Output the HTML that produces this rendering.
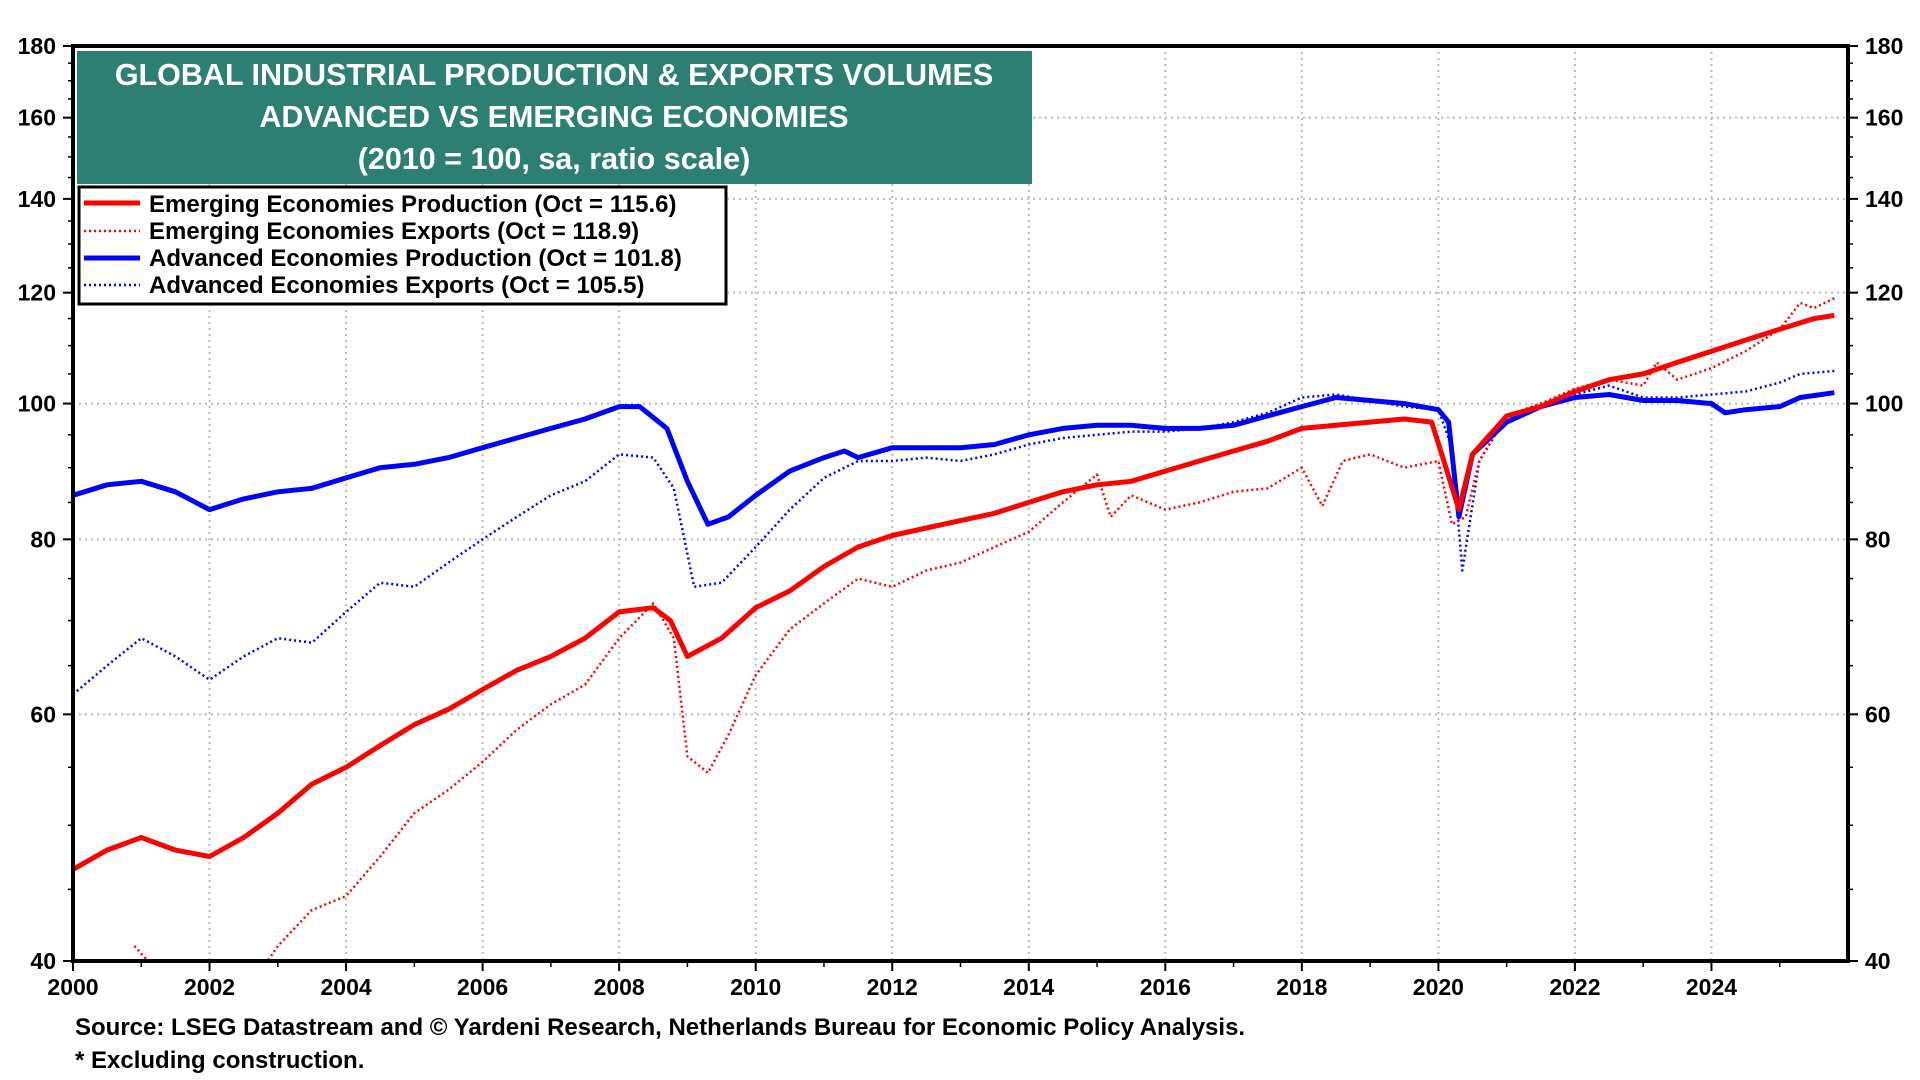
<!DOCTYPE html>
<html><head><meta charset="utf-8"><style>
body{margin:0;background:#fff;width:1920px;height:1080px;overflow:hidden;font-family:"Liberation Sans",Arial,sans-serif}
svg{display:block}
</style></head><body>
<svg id="chart" width="1920" height="1080" xmlns="http://www.w3.org/2000/svg" font-family="Liberation Sans, Arial, sans-serif">
<defs><clipPath id="pc"><rect x="73" y="46" width="1775" height="915"/></clipPath></defs>
<g id="grid"></g>
<g id="series" clip-path="url(#pc)"></g>
<rect x="73" y="46" width="1775" height="915" fill="none" stroke="#000" stroke-width="4"/>
<g id="axes"></g>
<rect x="77" y="51" width="955" height="133" fill="#2e7f73"/>
<g fill="#fff" font-weight="bold" font-size="30.5" text-anchor="middle">
<text x="554" y="85">GLOBAL INDUSTRIAL PRODUCTION &amp; EXPORTS VOLUMES</text>
<text x="554" y="127">ADVANCED VS EMERGING ECONOMIES</text>
<text x="554" y="169">(2010 = 100, sa, ratio scale)</text>
</g>
<g>
<rect x="79" y="187" width="647" height="117" fill="#fff" stroke="#000" stroke-width="3"/>
<g font-weight="bold" font-size="24" fill="#000">
<line x1="84" y1="203" x2="140" y2="203" stroke="#f00" stroke-width="5"/>
<text x="149" y="212">Emerging Economies Production (Oct = 115.6)</text>
<line x1="84" y1="231" x2="140" y2="231" stroke="#f00" stroke-width="2.5" stroke-dasharray="2,3"/>
<text x="149" y="239">Emerging Economies Exports (Oct = 118.9)</text>
<line x1="84" y1="258" x2="140" y2="258" stroke="#00f" stroke-width="5"/>
<text x="149" y="266">Advanced Economies Production (Oct = 101.8)</text>
<line x1="84" y1="285" x2="140" y2="285" stroke="#00f" stroke-width="2.5" stroke-dasharray="2,3"/>
<text x="149" y="293">Advanced Economies Exports (Oct = 105.5)</text>
</g></g>
<g font-weight="bold" font-size="24" fill="#000">
<text x="75" y="1035">Source: LSEG Datastream and © Yardeni Research, Netherlands Bureau for Economic Policy Analysis.</text>
<text x="75" y="1068">* Excluding construction.</text>
</g>
</svg>
<script>
const yTicks=[40,60,80,100,120,140,160,180];
const xTicks=[2000,2002,2004,2006,2008,2010,2012,2014,2016,2018,2020,2022,2024];
const emProdT=[2000,2000.5,2001,2001.5,2002,2002.5,2003,2003.5,2004,2004.5,2005,2005.5,2006,2006.5,2007,2007.5,2008,2008.5,2008.75,2009,2009.5,2010,2010.5,2011,2011.5,2012,2012.5,2013,2013.5,2014,2014.5,2015,2015.5,2016,2016.5,2017,2017.5,2018,2018.5,2019,2019.5,2019.9,2020.05,2020.3,2020.5,2021,2021.5,2022,2022.5,2023,2023.5,2024,2024.5,2025,2025.5,2025.8];
const emProdV=[46.5,48,49,48,47.5,49,51,53.5,55,57,59,60.5,62.5,64.5,66,68,71,71.5,70,66,68,71.5,73.5,76.5,79,80.5,81.5,82.5,83.5,85,86.5,87.5,88,89.5,91,92.5,94,96,96.5,97,97.5,97,92,84,92,98,99.5,102,104,105,107,109,111,113,115,115.6];
const emExpT=[2000.9,2001.2,2002,2002.7,2003,2003.5,2004,2004.5,2005,2005.5,2006,2006.5,2007,2007.5,2008,2008.5,2008.8,2009,2009.3,2009.6,2010,2010.5,2011,2011.5,2012,2012.5,2013,2013.5,2014,2014.5,2015,2015.2,2015.5,2016,2016.5,2017,2017.5,2018,2018.3,2018.6,2019,2019.5,2020,2020.2,2020.4,2020.6,2021,2021.5,2022,2022.5,2023,2023.2,2023.5,2024,2024.5,2025,2025.3,2025.5,2025.8];
const emExpV=[41,39.5,38,39,41,43.5,44.5,47.5,51,53,55.5,58.5,61,63,68,72,68,56,54.5,58,64,69,72,75,74,76,77,79,81,85,89,83,86,84,85,86.5,87,90,84.5,91,92,90,91,82,83,91,98,100,102.5,104,103,107,104,106,109,113,118,117,118.9];
const advProdT=[2000,2000.5,2001,2001.5,2002,2002.5,2003,2003.5,2004,2004.5,2005,2005.5,2006,2006.5,2007,2007.5,2008,2008.3,2008.7,2009,2009.3,2009.6,2010,2010.5,2011,2011.3,2011.5,2012,2012.5,2013,2013.5,2014,2014.5,2015,2015.5,2016,2016.5,2017,2017.5,2018,2018.5,2019,2019.5,2020,2020.15,2020.3,2020.5,2021,2021.5,2022,2022.5,2023,2023.5,2024,2024.2,2024.5,2025,2025.3,2025.8];
const advProdV=[86,87.5,88,86.5,84,85.5,86.5,87,88.5,90,90.5,91.5,93,94.5,96,97.5,99.5,99.5,96,88,82,83,86,89.5,91.5,92.5,91.5,93,93,93,93.5,95,96,96.5,96.5,96,96,96.5,98,99.5,101,100.5,100,99,97,83,92,97,99.5,101,101.5,100.5,100.5,100,98.5,99,99.5,101,101.8];
const advExpT=[2000,2000.5,2001,2001.5,2002,2002.5,2003,2003.5,2004,2004.5,2005,2005.5,2006,2006.5,2007,2007.5,2008,2008.5,2008.8,2009.1,2009.5,2010,2010.5,2011,2011.5,2012,2012.5,2013,2013.5,2014,2014.5,2015,2015.5,2016,2016.5,2017,2017.5,2018,2018.5,2019,2019.5,2020,2020.2,2020.35,2020.6,2021,2021.5,2022,2022.5,2023,2023.5,2024,2024.5,2025,2025.3,2025.8];
const advExpV=[62,65,68,66,63.5,66,68,67.5,71,74.5,74,77,80,83,86,88,92,91.5,87,74,74.5,79,84,88.5,91,91,91.5,91,92,93.5,94.5,95,95.5,95.5,96,97,98.5,101,101.5,100.5,99.5,99,93,76,91,98,100,101.5,103,101,101,101.5,102,103.5,105,105.5];

const L=73,R=1848,T=46,B=961,X0=2000,X1=2026;
const xs=t=>L+(t-X0)/(X1-X0)*(R-L);
const ys=v=>B-(Math.log(v)-Math.log(40))/(Math.log(180)-Math.log(40))*(B-T);
const NS="http://www.w3.org/2000/svg";
function mk(tag,parent,attrs){const e=document.createElementNS(NS,tag);for(const k in attrs)e.setAttribute(k,attrs[k]);parent.appendChild(e);return e;}
const grid=document.getElementById('grid'),axes=document.getElementById('axes'),ser=document.getElementById('series');
yTicks.forEach(v=>{
  const y=ys(v);
  if(v>40&&v<180){const g=mk('line',grid,{x1:L,x2:R,y1:y,y2:y,stroke:'#bbb','stroke-width':2,'stroke-dasharray':'2,4'});
  
  }
  mk('line',axes,{x1:L-10,x2:L,y1:y,y2:y,stroke:'#000','stroke-width':2});
  mk('line',axes,{x1:R,x2:R+10,y1:y,y2:y,stroke:'#000','stroke-width':2});
  const a=mk('text',axes,{x:L-17,y:y+8,'text-anchor':'end','font-size':23,'font-weight':'bold'});a.textContent=v;
  
  
  const b=mk('text',axes,{x:R+17,y:y+8,'text-anchor':'start','font-size':23,'font-weight':'bold'});b.textContent=v;
  
  
});
for(let v=45;v<180;v+=5){if(v%20===0)continue;const y=ys(v);mk('line',axes,{x1:L-5,x2:L,y1:y,y2:y,stroke:'#000','stroke-width':1.5});mk('line',axes,{x1:R,x2:R+5,y1:y,y2:y,stroke:'#000','stroke-width':1.5});}
xTicks.forEach(t=>{
  const x=xs(t);
  if(t>2000){const g=mk('line',grid,{x1:x,x2:x,y1:T,y2:B,stroke:'#bbb','stroke-width':2,'stroke-dasharray':'2,4'});
  
  }
  mk('line',axes,{x1:x,x2:x,y1:B,y2:B+10,stroke:'#000','stroke-width':2});
  const a=mk('text',axes,{x:x,y:B+34,'text-anchor':'middle','font-size':23,'font-weight':'bold'});a.textContent=t;
  
  
});
for(let t=2001;t<2026;t+=2){const x=xs(t);mk('line',axes,{x1:x,x2:x,y1:B,y2:B+6,stroke:'#000','stroke-width':1.5});}
function line(T_,V,color,w,dash,name){
  const d=T_.map((t,i)=>(i?'L':'M')+xs(t).toFixed(1)+','+ys(V[i]).toFixed(1)).join('');
  const p=mk('path',ser,{d:d,fill:'none',stroke:color,'stroke-width':w,'stroke-linejoin':'round'});
  if(dash)p.setAttribute('stroke-dasharray',dash);
  
  
}
line(advExpT,advExpV,'#00f',2.5,'2,3','series-advanced-exports');
line(emExpT,emExpV,'#f00',2.5,'2,3','series-emerging-exports');
line(advProdT,advProdV,'#00f',5,null,'series-advanced-production');
line(emProdT,emProdV,'#f00',5,null,'series-emerging-production');
</script>
</body></html>
